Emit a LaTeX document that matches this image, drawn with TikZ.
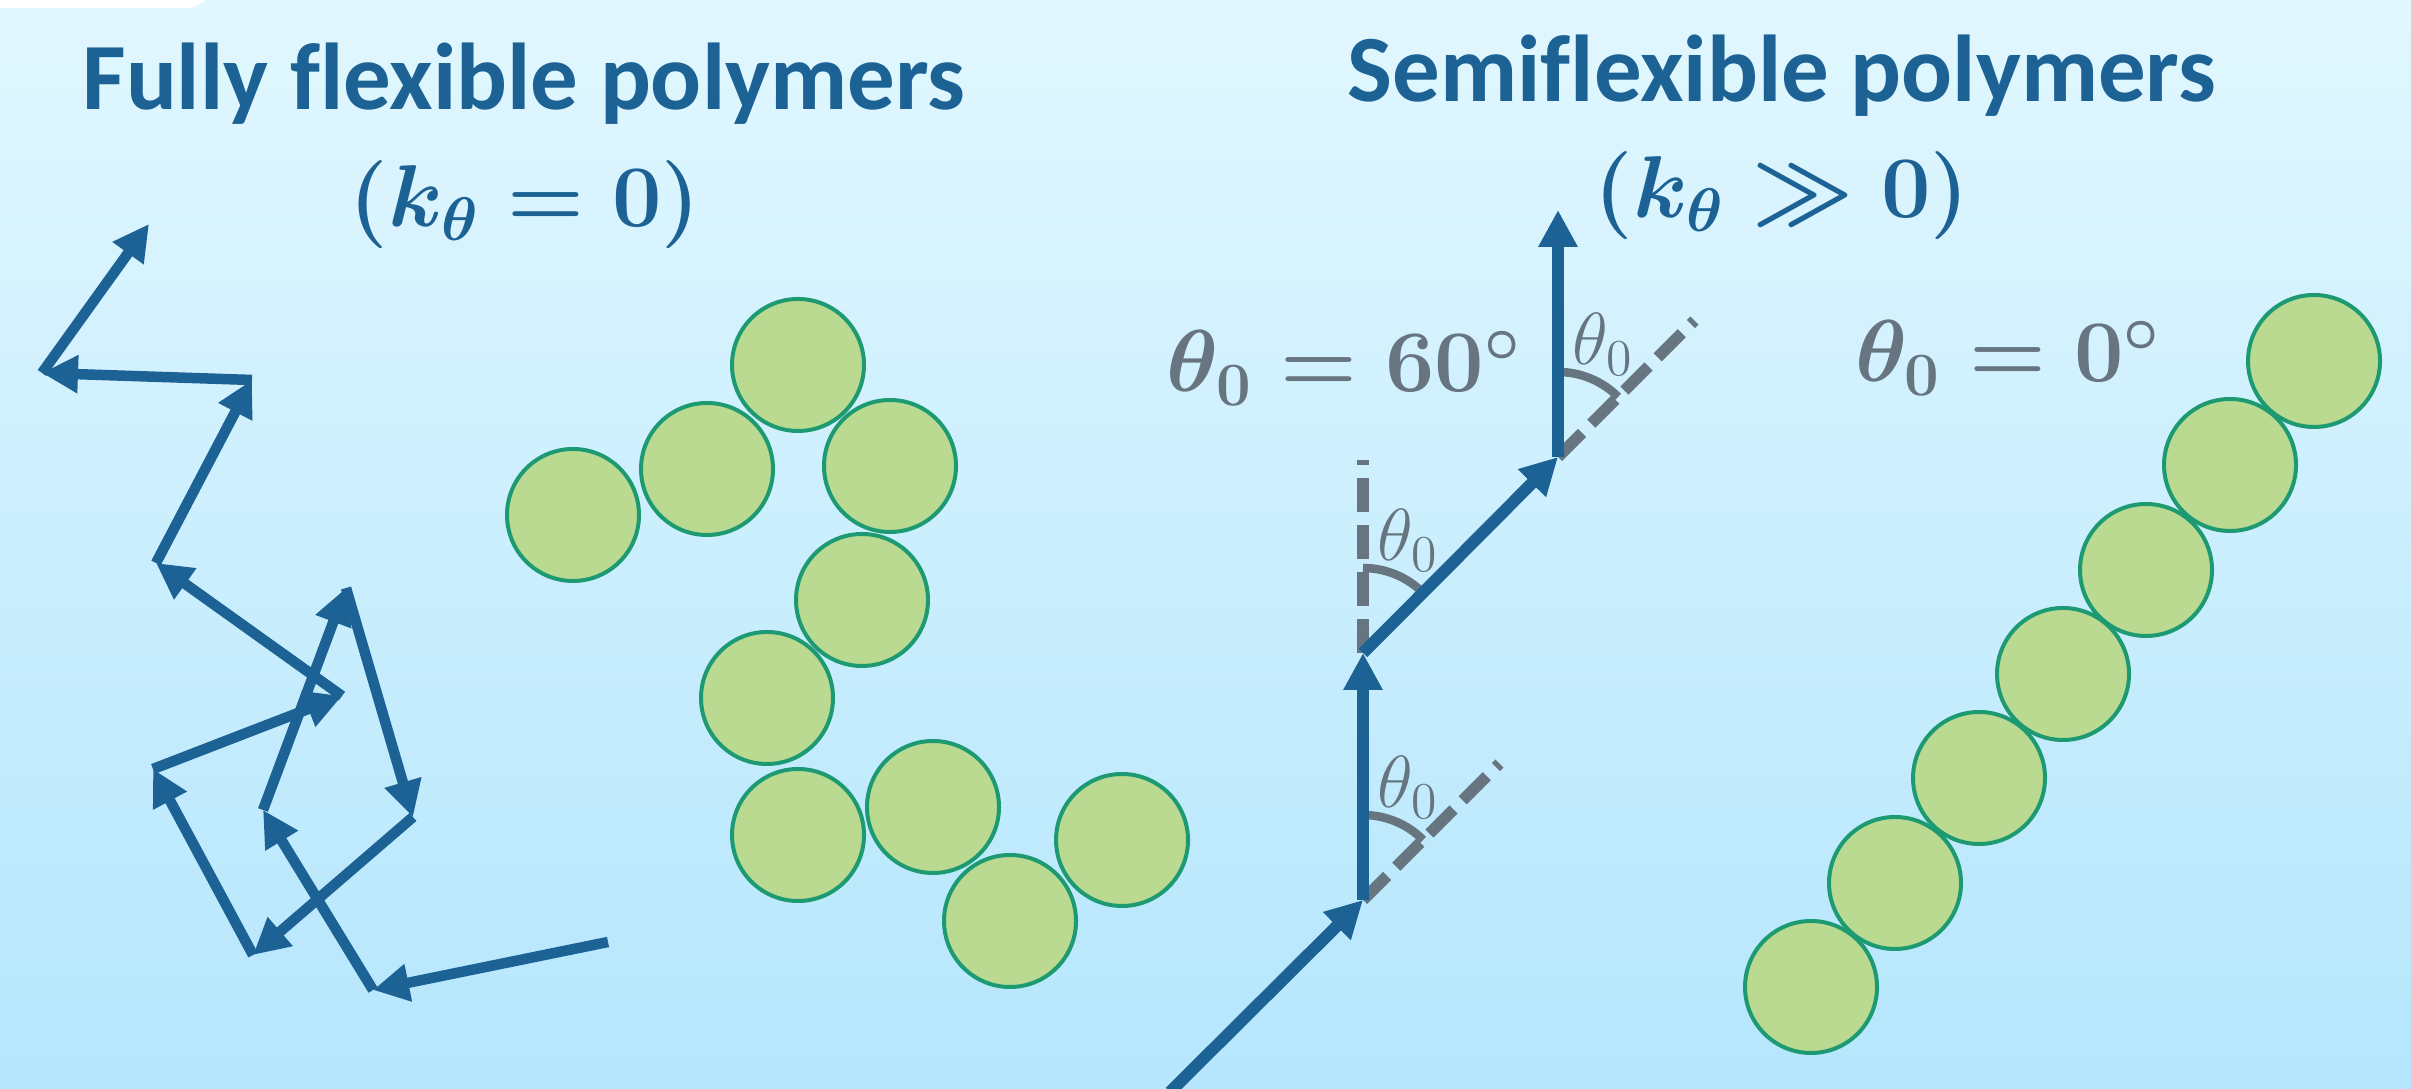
\RequirePackage{fix-cm}
\documentclass[tikz,border=0pt]{standalone}
\usepackage[no-math]{fontspec}
\usepackage{amsmath}
\usepackage{tikz}
\usetikzlibrary{arrows.meta, calc}
\newfontfamily\titlefont{Carlito}[Ligatures=CommonOff]
\definecolor{polyblue}{RGB}{29,98,148}
\definecolor{anglegray}{RGB}{102,117,127}
\definecolor{beadfill}{RGB}{186,218,145}
\definecolor{beadline}{RGB}{30,154,115}
\definecolor{bgtop}{RGB}{225,247,254}
\definecolor{bgbottom}{RGB}{181,230,253}
\tikzset{
  bond/.style={-{Triangle[length=0.36cm, width=0.36cm]}, line width=0.105cm,
    color=polyblue},
  stiffbond/.style={-{Triangle[length=0.37cm, width=0.37cm]}, line width=0.12cm,
    color=polyblue},
  guide/.style={anglegray, line width=0.115cm, dash pattern=on 0.34cm off 0.13cm},
  anglearc/.style={anglegray, line width=0.085cm},
  bead/.style={circle, draw=beadline, fill=beadfill, minimum size=1.32cm,
    inner sep=0pt, line width=0.04cm},
  heading/.style={font=\titlefont\bfseries\fontsize{27}{32}\selectfont,
    color=polyblue, anchor=base},
  stiffness/.style={font=\boldmath\fontsize{25}{30}\selectfont,
    color=polyblue, anchor=base},
  anglevalue/.style={font=\boldmath\fontsize{25}{30}\selectfont,
    color=anglegray, anchor=base},
  anglename/.style={font=\fontsize{21}{25}\selectfont, color=anglegray,
    inner sep=0pt}
}

\begin{document}
\begin{tikzpicture}
  \useasboundingbox (0,0) rectangle (24.11,10.89);
  % Background
  \shade[top color=bgtop, bottom color=bgbottom] (0,0) rectangle (24.11,10.89);
  \fill[white, rounded corners=0.3cm] (-1,10.81) rectangle (2.15,12);
  % Titles
  \node[heading] (flextitle) at (5.24,9.79) {Fully flexible polymers};
  \node[stiffness] (flexk) at (5.25,8.62) {$(k_\theta = 0)$};
  \node[heading] (semititle) at (17.82,9.87) {Semiflexible polymers};
  \node[stiffness] (semik) at (17.82,8.71) {$(k_\theta \gg 0)$};
  % Flexible chain: beads
  \node[bead] (fb1) at (5.73,5.74) {};
  \node[bead] (fb2) at (7.07,6.20) {};
  \node[bead] (fb3) at (7.98,7.24) {};
  \node[bead] (fb4) at (8.90,6.23) {};
  \node[bead] (fb5) at (8.62,4.89) {};
  \node[bead] (fb6) at (7.67,3.91) {};
  \node[bead] (fb7) at (7.98,2.54) {};
  \node[bead] (fb8) at (9.33,2.82) {};
  \node[bead] (fb9) at (10.10,1.68) {};
  \node[bead] (fb10) at (11.22,2.49) {};
  % Flexible chain: bond vectors
  \coordinate (f0) at (6.08,1.47);
  \coordinate (f1) at (3.73,0.99);
  \coordinate (f2) at (2.63,2.79);
  \coordinate (f3) at (3.46,5.01);
  \coordinate (f4) at (4.13,2.72);
  \coordinate (f5) at (2.53,1.34);
  \coordinate (f6) at (1.53,3.20);
  \coordinate (f7) at (3.42,3.93);
  \coordinate (f8) at (1.56,5.26);
  \coordinate (f9) at (2.52,7.09);
  \coordinate (f10) at (0.42,7.16);
  \coordinate (f11) at (1.49,8.65);
  \draw[bond] (f0) -- (f1);
  \draw[bond] (f1) -- (f2);
  \draw[bond] (f2) -- (f3);
  \draw[bond] (f3) -- (f4);
  \draw[bond] (f4) -- (f5);
  \draw[bond] (f5) -- (f6);
  \draw[bond] (f6) -- (f7);
  \draw[bond] (f7) -- (f8);
  \draw[bond] (f8) -- (f9);
  \draw[bond] (f9) -- (f10);
  \draw[bond] (f10) -- (f11);
  % Semiflexible chain: bond vectors
  \coordinate (s0) at (11.70,-0.03);
  \coordinate (s1) at (13.63,1.89);
  \coordinate (s2) at (13.63,4.36);
  \coordinate (s3) at (15.58,6.32);
  \coordinate (s4) at (15.58,8.79);
  % Preferred directions and bending angles
  \draw[guide] (s1) -- ++(45:1.93);
  \draw[guide] (s2) -- ++(90:1.93);
  \draw[guide] (s3) -- ++(45:1.93);
  \draw[anglearc] ($(s1)+(90:0.85)$) arc[start angle=90, end angle=45, radius=0.85];
  \draw[anglearc] ($(s2)+(90:0.85)$) arc[start angle=90, end angle=45, radius=0.85];
  \draw[anglearc] ($(s3)+(90:0.85)$) arc[start angle=90, end angle=45, radius=0.85];
  \draw[stiffbond] (s0) -- (s1);
  \draw[stiffbond] (s1) -- (s2);
  \draw[stiffbond] (s2) -- (s3);
  \draw[stiffbond] (s3) -- (s4);
  \node[anglename] (th1) at (14.08,3.02) {$\theta_0$};
  \node[anglename] (th2) at (14.08,5.49) {$\theta_0$};
  \node[anglename] (th3) at (16.03,7.45) {$\theta_0$};
  \node[anglevalue] (sixty) at (13.44,6.97) {$\theta_0 = 60^\circ$};
  % Rod-like chain: beads
  \node[anglevalue] (zero) at (20.08,7.07) {$\theta_0 = 0^\circ$};
  \node[bead] (rb1) at (23.14,7.28) {};
  \node[bead] (rb2) at (22.30,6.24) {};
  \node[bead] (rb3) at (21.46,5.19) {};
  \node[bead] (rb4) at (20.63,4.15) {};
  \node[bead] (rb5) at (19.79,3.11) {};
  \node[bead] (rb6) at (18.95,2.06) {};
  \node[bead] (rb7) at (18.11,1.02) {};
\end{tikzpicture}
\end{document}
